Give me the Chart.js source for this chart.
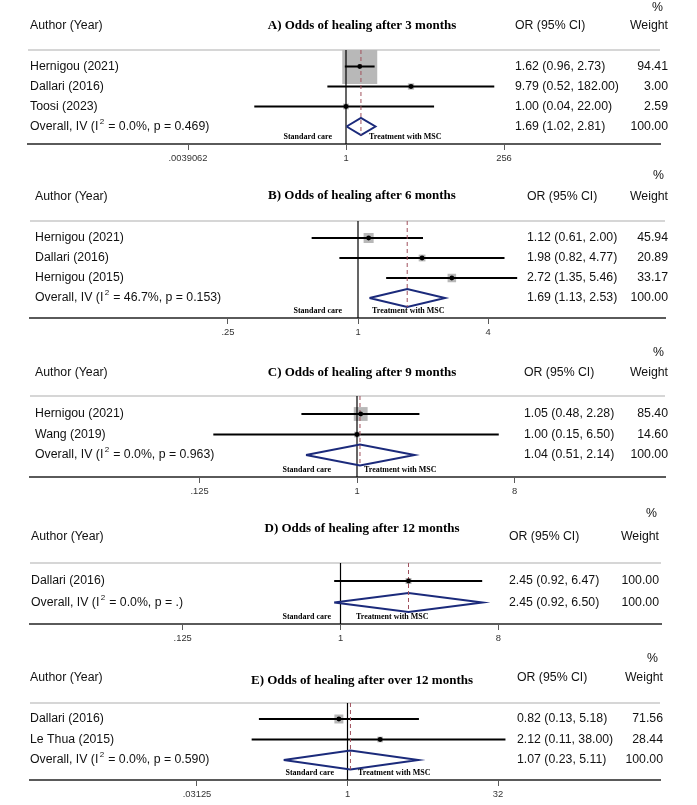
<!DOCTYPE html>
<html>
<head>
<meta charset="utf-8">
<script src="https://cdn.jsdelivr.net/npm/chart.js@4/dist/chart.umd.min.js"></script>
<style>
  html, body { margin: 0; padding: 0; background: #fff; }
  #page { position: relative; width: 697px; height: 805px; overflow: hidden; }
  .panel { position: absolute; left: 0; width: 697px; }
</style>
</head>
<body>
<div id="page"></div>
<script>
// A) 3 months
const studiesA = ["Hernigou (2021)", "Dallari (2016)", "Toosi (2023)"];
const orA = [1.62, 9.79, 1.00];
const lowA = [0.96, 0.52, 0.04];
const highA = [2.73, 182.00, 22.00];
const weightA = [94.41, 3.00, 2.59];
const overallA = [1.69, 1.02, 2.81];
const hetA = ["0.0%", "0.469"];
const ticksA = [1 / 256, 1, 256];
const tickLabelsA = [".0039062", "1", "256"];

// B) 6 months
const studiesB = ["Hernigou (2021)", "Dallari (2016)", "Hernigou (2015)"];
const orB = [1.12, 1.98, 2.72];
const lowB = [0.61, 0.82, 1.35];
const highB = [2.00, 4.77, 5.46];
const weightB = [45.94, 20.89, 33.17];
const overallB = [1.69, 1.13, 2.53];
const hetB = ["46.7%", "0.153"];
const ticksB = [0.25, 1, 4];
const tickLabelsB = [".25", "1", "4"];

// C) 9 months
const studiesC = ["Hernigou (2021)", "Wang (2019)"];
const orC = [1.05, 1.00];
const lowC = [0.48, 0.15];
const highC = [2.28, 6.50];
const weightC = [85.40, 14.60];
const overallC = [1.04, 0.51, 2.14];
const hetC = ["0.0%", "0.963"];
const ticksC = [0.125, 1, 8];
const tickLabelsC = [".125", "1", "8"];

// D) 12 months
const studiesD = ["Dallari (2016)"];
const orD = [2.45];
const lowD = [0.92];
const highD = [6.47];
const weightD = [100.00];
const overallD = [2.45, 0.92, 6.50];
const hetD = ["0.0%", "."];
const ticksD = [0.125, 1, 8];
const tickLabelsD = [".125", "1", "8"];

// E) over 12 months
const studiesE = ["Dallari (2016)", "Le Thua (2015)"];
const orE = [0.82, 2.12];
const lowE = [0.13, 0.11];
const highE = [5.18, 38.00];
const weightE = [71.56, 28.44];
const overallE = [1.07, 0.23, 5.11];
const hetE = ["0.0%", "0.590"];
const ticksE = [1 / 32, 1, 32];
const tickLabelsE = [".03125", "1", "32"];

// layout per panel (page pixels)
const panels = [
  { title: "A) Odds of healing after 3 months", studies: studiesA, or: orA, low: lowA, high: highA, weight: weightA,
    overall: overallA, het: hetA, ticks: ticksA, tickLabels: tickLabelsA,
    top: 0, line: 50, firstRow: 66.5, step: 20, axis: 144, left: 28, right: 660, center: 346, perLog2: 19.75,
    nameX: 30, orX: 515, wX: 668, pctX: 663, headY: 26, titleY: 26, pctY: 8, stdX: 332, mscX: 369, boxK: 3.6, dh: 8.5 },
  { title: "B) Odds of healing after 6 months", studies: studiesB, or: orB, low: lowB, high: highB, weight: weightB,
    overall: overallB, het: hetB, ticks: ticksB, tickLabels: tickLabelsB,
    top: 168, line: 221, firstRow: 238, step: 20, axis: 318, left: 30, right: 665, center: 358, perLog2: 65,
    nameX: 35, orX: 527, wX: 668, pctX: 664, headY: 197, titleY: 196, pctY: 176, stdX: 342, mscX: 372, boxK: 1.48, dh: 9 },
  { title: "C) Odds of healing after 9 months", studies: studiesC, or: orC, low: lowC, high: highC, weight: weightC,
    overall: overallC, het: hetC, ticks: ticksC, tickLabels: tickLabelsC,
    top: 345, line: 396, firstRow: 414, step: 20.5, axis: 477, left: 30, right: 665, center: 357, perLog2: 52.5,
    nameX: 35, orX: 524, wX: 668, pctX: 664, headY: 373, titleY: 373, pctY: 353, stdX: 331, mscX: 364, boxK: 1.5, dh: 10.5 },
  { title: "D) Odds of healing after 12 months", studies: studiesD, or: orD, low: lowD, high: highD, weight: weightD,
    overall: overallD, het: hetD, ticks: ticksD, tickLabels: tickLabelsD,
    top: 503, line: 563, firstRow: 581, step: 21.5, axis: 624, left: 30, right: 661, center: 340.5, perLog2: 52.6,
    nameX: 31, orX: 509, wX: 659, pctX: 657, headY: 537, titleY: 529, pctY: 514, stdX: 331, mscX: 356, boxK: 0.6, dh: 9.5 },
  { title: "E) Odds of healing after over 12 months", studies: studiesE, or: orE, low: lowE, high: highE, weight: weightE,
    overall: overallE, het: hetE, ticks: ticksE, tickLabels: tickLabelsE,
    top: 648, line: 703, firstRow: 719, step: 20.5, axis: 780, left: 30, right: 660, center: 347.5, perLog2: 30.1,
    nameX: 30, orX: 517, wX: 663, pctX: 658, headY: 678, titleY: 681, pctY: 659, stdX: 334, mscX: 358, boxK: 1.06, dh: 9.5 }
];

const SANS = '"Liberation Sans", Arial, sans-serif';
const SERIF = '"Liberation Serif", "Times New Roman", serif';
const FS = 12.3;

function fmt(v) { return v.toFixed(2); }

function textPlugin(p) {
  return {
    id: 'forestText',
    beforeDatasetsDraw(chart) {
      const ctx = chart.ctx, a = chart.chartArea;
      ctx.save();
      ctx.strokeStyle = '#d6d6d6';
      ctx.lineWidth = 2;
      ctx.beginPath();
      ctx.moveTo(a.left, a.top);
      ctx.lineTo(a.right, a.top);
      ctx.stroke();
      ctx.restore();
    },
    afterDraw(chart) {
      const ctx = chart.ctx, y = chart.scales.y, a = chart.chartArea;
      const n = p.studies.length;
      const off = p.top;
      ctx.save();
      ctx.fillStyle = '#111';
      ctx.textBaseline = 'middle';
      ctx.font = FS + 'px ' + SANS;
      // headers
      ctx.textAlign = 'left';
      ctx.fillText("Author (Year)", p.nameX, p.headY - off);
      ctx.fillText("OR (95% CI)", p.orX, p.headY - off);
      ctx.textAlign = 'right';
      ctx.fillText("Weight", p.wX, p.headY - off);
      ctx.fillText("%", p.pctX, p.pctY - off);
      ctx.textAlign = 'center';
      ctx.font = 'bold 13px ' + SERIF;
      ctx.fillStyle = '#000';
      ctx.fillText(p.title, 362, p.titleY - off);
      // rows
      ctx.font = FS + 'px ' + SANS;
      ctx.fillStyle = '#111';
      p.studies.forEach((s, i) => {
        const py = y.getPixelForValue(i);
        ctx.textAlign = 'left';
        ctx.fillText(s, p.nameX, py);
        ctx.fillText(fmt(p.or[i]) + " (" + fmt(p.low[i]) + ", " + fmt(p.high[i]) + ")", p.orX, py);
        ctx.textAlign = 'right';
        ctx.fillText(fmt(p.weight[i]), p.wX, py);
      });
      const oy = y.getPixelForValue(n);
      ctx.textAlign = 'left';
      let x = p.nameX;
      const pre = "Overall, IV (I";
      ctx.fillText(pre, x, oy);
      x += ctx.measureText(pre).width + 1.5;
      ctx.font = '8px ' + SANS;
      ctx.fillText("2", x, oy - 5);
      x += ctx.measureText("2").width + 0.5;
      ctx.font = FS + 'px ' + SANS;
      ctx.fillText(" = " + p.het[0] + ", p = " + p.het[1] + ")", x, oy);
      ctx.fillText(fmt(p.overall[0]) + " (" + fmt(p.overall[1]) + ", " + fmt(p.overall[2]) + ")", p.orX, oy);
      ctx.textAlign = 'right';
      ctx.fillText("100.00", p.wX, oy);
      // direction labels
      ctx.font = 'bold 8px ' + SERIF;
      ctx.fillStyle = '#000';
      ctx.textAlign = 'right';
      ctx.fillText("Standard care", p.stdX, a.bottom - 7.5);
      ctx.textAlign = 'left';
      ctx.fillText("Treatment with MSC", p.mscX, a.bottom - 7.5);
      ctx.restore();
    }
  };
}

function buildDatasets(p, yTop, yBottom) {
  const n = p.studies.length;
  const [est, lo, hi] = p.overall;
  const h = p.dh / p.step;
  const ds = [];
  ds.push({
    data: p.or.map((v, i) => ({ x: v, y: i })),
    pointStyle: 'rect',
    pointRadius: p.weight.map(w => p.boxK * Math.sqrt(w) / Math.SQRT2),
    backgroundColor: '#b8b8b8', borderWidth: 0, order: 5
  });
  ds.push({
    data: [{ x: 1, y: yTop }, { x: 1, y: yBottom }],
    showLine: true, borderColor: '#000', borderWidth: 1.2, pointRadius: 0, order: 4
  });
  p.or.forEach((v, i) => ds.push({
    data: [{ x: p.low[i], y: i }, { x: p.high[i], y: i }],
    showLine: true, borderColor: '#000', borderWidth: 2, pointRadius: 0, order: 3
  }));
  ds.push({
    data: [{ x: est, y: yTop }, { x: est, y: n + h }],
    showLine: true, borderColor: '#a0505c', borderDash: [4, 3], borderWidth: 1, pointRadius: 0, order: 2
  });
  ds.push({
    data: [{ x: lo, y: n }, { x: est, y: n - h }, { x: hi, y: n }, { x: est, y: n + h }, { x: lo, y: n }],
    showLine: true, borderColor: '#1b2a7b', borderWidth: 2, borderJoinStyle: 'miter', pointRadius: 0, fill: false, order: 2
  });
  ds.push({
    data: p.or.map((v, i) => ({ x: v, y: i })),
    pointStyle: 'circle', pointRadius: 2.4, backgroundColor: '#000', borderWidth: 0, order: 1
  });
  return ds;
}

const page = document.getElementById('page');
panels.forEach((p) => {
  const h = p.axis - p.top + 26;
  const div = document.createElement('div');
  div.className = 'panel';
  div.style.top = p.top + 'px';
  div.style.height = h + 'px';
  const canvas = document.createElement('canvas');
  div.appendChild(canvas);
  page.appendChild(div);

  const yTop = -(p.firstRow - p.line) / p.step;
  const yBottom = (p.axis - p.firstRow) / p.step;

  new Chart(canvas, {
    type: 'scatter',
    data: { datasets: buildDatasets(p, yTop, yBottom) },
    options: {
      responsive: true,
      maintainAspectRatio: false,
      animation: false,
      events: [],
      layout: { autoPadding: false, padding: { left: p.left, right: 697 - p.right, top: p.line - p.top, bottom: 6 } },
      plugins: { legend: { display: false }, tooltip: { enabled: false } },
      scales: {
        x: {
          type: 'logarithmic',
          bounds: 'data',
          min: Math.pow(2, (p.left - p.center) / p.perLog2),
          max: Math.pow(2, (p.right - p.center) / p.perLog2),
          afterBuildTicks: (scale) => { scale.ticks = p.ticks.map(v => ({ value: v })); },
          afterFit: (scale) => { scale.height = 20; },
          border: { display: true, color: '#5a5a5a', width: 2 },
          grid: { drawOnChartArea: false, drawTicks: true, tickLength: 6, color: '#5a5a5a', lineWidth: 1 },
          ticks: {
            autoSkip: false, maxRotation: 0, padding: 3,
            color: '#333', font: { family: SANS, size: 9.4 },
            callback: (v, i) => p.tickLabels[i]
          }
        },
        y: { type: 'linear', display: false, reverse: true, min: yTop, max: yBottom }
      }
    },
    plugins: [textPlugin(p)]
  });
});
</script>
</body>
</html>
